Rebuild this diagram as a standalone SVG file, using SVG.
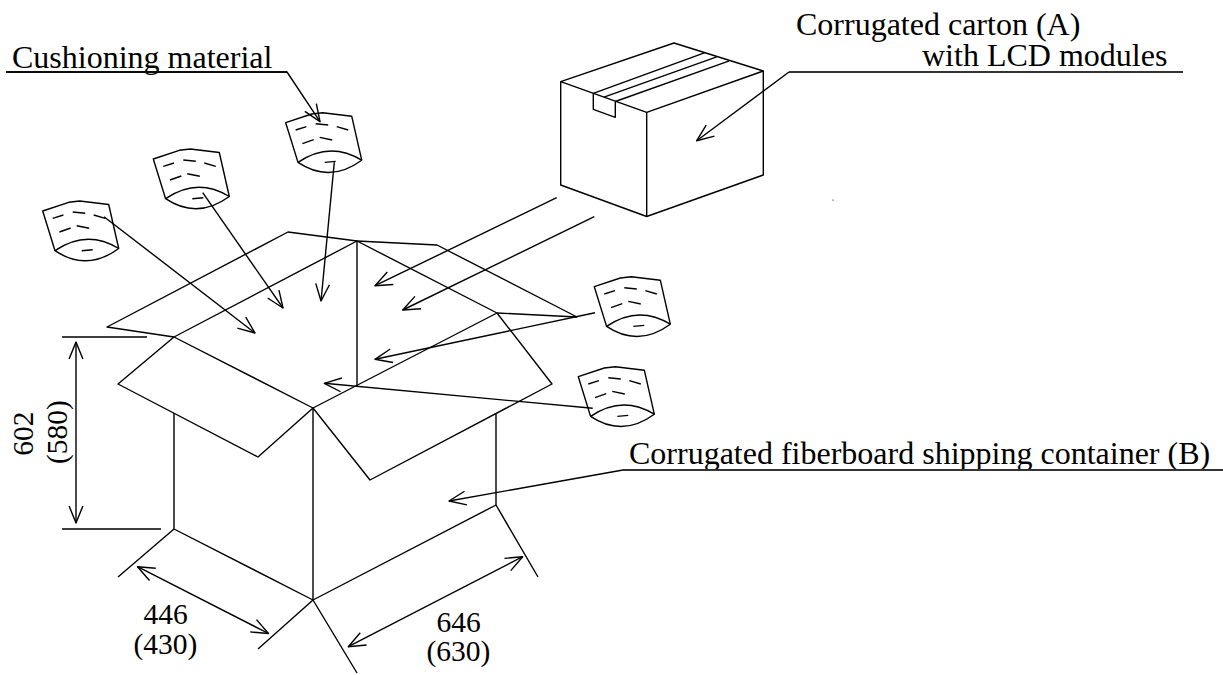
<svg xmlns="http://www.w3.org/2000/svg" xmlns:xlink="http://www.w3.org/1999/xlink" width="1223" height="675" viewBox="0 0 1223 675">
<style>
.ln{fill:none;stroke:#000;stroke-width:1.4;stroke-linejoin:round;stroke-linecap:butt}
.ul{fill:none;stroke:#333;stroke-width:2}
.lbl{font-family:"Liberation Serif","Times New Roman",serif;font-size:32px;fill:#000}
.dim{font-family:"Liberation Serif","Times New Roman",serif;font-size:29.5px;fill:#000}
.arr{marker-end:url(#ah)}
.darr{marker-start:url(#ah);marker-end:url(#ah)}
</style>
<defs>
<marker id="ah" markerUnits="userSpaceOnUse" markerWidth="40" markerHeight="40" viewBox="-20 -20 40 40" refX="0" refY="0" orient="auto-start-reverse" overflow="visible">
<path d="M-17,-6.9 L0,0 L-17,6.9" fill="none" stroke="#000" stroke-width="1.4" stroke-linejoin="round"/>
</marker>
<g id="cush">
<path class="ln" d="M12.3,39.7 L0,0 L26,-8.7 L37,-10 L66,-6.5 L76,37.5"/>
<path class="ln" d="M12.3,39.7 Q44,18 76,37.5 Q44,61 12.3,39.7 Z"/>
<path class="ln" d="M10,7.3 L20.7,4 M30,1 L42.5,2.3 M51,4 L62.5,7.3 M16.7,21 L28,17 M34,14.7 L46.5,17.3 M39,39.7 L50,38.7"/>
</g>
</defs>
<rect width="1223" height="675" fill="#fff"/>

<g id="carton-a">
<path class="ln" d="M560.7,81.7 L674,43 L763.3,71 L646.7,112.3 Z"/>
<path class="ln" d="M560.7,81.7 L560.7,185 L646.7,216.5 L763.3,175 L763.3,71"/>
<path class="ln" d="M646.7,112.3 L646.7,216.5"/>
<path class="ln" d="M593.3,93.3 L705,52.7 M604,97.2 L716.7,56.8 M615.3,101.5 L729.3,60.8"/>
<path class="ln" d="M593.3,93.3 L593.3,109.3 L615.3,117.3 L615.3,101.5"/>
</g>

<g id="container-b">
<!-- back-left flap -->
<path class="ln" d="M174,337 L107,327 L288,232 L357,241"/>
<!-- back-right flap -->
<path class="ln" d="M357,241 L437,245 L577,317 L497,313"/>
<!-- opening -->
<path class="ln" d="M174,337 L357,241 L497,313 M174,337 L313,408 L497,313"/>
<path class="ln" d="M357,241 L357,386"/>
<!-- front-left flap -->
<path class="ln" d="M174,337 L118,384 L258,457 L313,408"/>
<!-- front-right flap -->
<path class="ln" d="M313,408 L370,480 L552,384 L497,313"/>
<!-- walls -->
<path class="ln" d="M174,413 L174,529 L313,600 L496,505 L496,414 M313,408 L313,600"/>
</g>

<g id="cushion-1"><use xlink:href="#cush" href="#cush" transform="translate(42.7,211)"/></g>
<g id="cushion-2"><use xlink:href="#cush" href="#cush" transform="translate(153.3,159)"/></g>
<g id="cushion-3"><use xlink:href="#cush" href="#cush" transform="translate(285.7,122.7)"/></g>
<g id="cushion-4"><use xlink:href="#cush" href="#cush" transform="translate(594.3,286.7)"/></g>
<g id="cushion-5"><use xlink:href="#cush" href="#cush" transform="translate(578.3,376.7)"/></g>

<g id="label-cushioning">
<text class="lbl" x="12" y="68">Cushioning material</text>
<line class="ul" x1="6" y1="72" x2="287" y2="72"/>
</g>
<g id="label-carton-a">
<text class="lbl" x="796" y="35">Corrugated carton (A)</text>
<text class="lbl" x="922" y="66">with LCD modules</text>
<line class="ul" x1="789" y1="72" x2="1183" y2="72"/>
</g>
<g id="label-container-b">
<text class="lbl" x="629" y="464">Corrugated fiberboard shipping container (B)</text>
<line class="ul" x1="623" y1="470" x2="1223" y2="470"/>
</g>

<g id="dimensions">
<path class="ln" d="M62,337 L147,337 M62,529 L161,529"/>
<path class="ln" d="M174,529 L118,577 M313,600 L258,649 M313,600 L357,673 M496,505 L538,577"/>
<text class="dim" transform="translate(33,433.5) rotate(-90)" text-anchor="middle">602</text>
<text class="dim" transform="translate(66.5,432) rotate(-90)" text-anchor="middle">(580)</text>
<text class="dim" x="165.5" y="624" text-anchor="middle">446</text>
<text class="dim" x="165.5" y="654" text-anchor="middle">(430)</text>
<text class="dim" x="458.5" y="632" text-anchor="middle">646</text>
<text class="dim" x="458.5" y="661" text-anchor="middle">(630)</text>
</g>

<g id="connectors">
<path class="ln arr" d="M6,72 L287,72 L320,121.7"/>
<path class="ln arr" d="M334.3,162.3 L321,301"/>
<path class="ln arr" d="M202.7,192.7 L283,308"/>
<path class="ln arr" d="M104,216.7 L255,333"/>
<path class="ln arr" d="M556.7,197.7 L375,285.7"/>
<path class="ln arr" d="M594.3,216.7 L402.7,310"/>
<path class="ln arr" d="M595,312.7 L375,359.3"/>
<path class="ln arr" d="M592.7,408.3 L324.3,383.3"/>
<path class="ln arr" d="M623,470 L449,501"/>
<path class="ln arr" d="M789,72 L696.7,140.7"/>
<path class="ln darr" d="M76,342 L76,523"/>
<path class="ln darr" d="M137.5,566.7 L268.5,633.5"/>
<path class="ln darr" d="M348.3,646.7 L522.7,556.7"/>
</g>

<rect x="832.5" y="199.5" width="1.2" height="1.2" fill="#555"/>
</svg>
